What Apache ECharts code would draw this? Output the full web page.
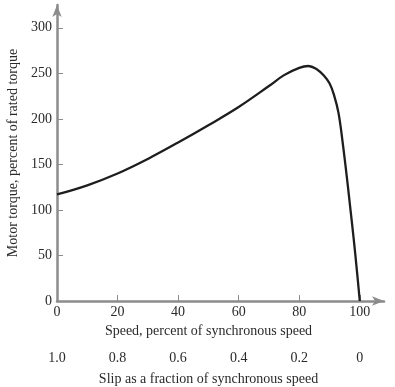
<!DOCTYPE html>
<html>
<head>
<meta charset="utf-8">
<script src="https://cdn.jsdelivr.net/npm/echarts@6/dist/echarts.min.js"></script>
<style>html,body{margin:0;padding:0;background:#fff}#c{width:395px;height:387px}</style>
</head>
<body>
<div id="c"></div>
<script>
var speed = [0, 10, 20, 30, 40, 50, 60, 70, 75, 80, 83, 86, 88, 90, 91.5, 93, 94.5, 96, 97, 98, 99, 100];
var torque = [117, 127, 140, 156, 174, 193, 213, 236, 248, 256, 258, 254, 248, 239, 226, 206, 170, 128, 98, 68, 35, 0];
var speedTicks = [0, 20, 40, 60, 80, 100];
var slipLabels = ['1.0', '0.8', '0.6', '0.4', '0.2', '0'];
var torqueTicks = [0, 50, 100, 150, 200, 250, 300];

var font = 'Liberation Serif';
var axisGray = '#8c8c8c';
var textColor = '#2a2a2a';
var data = speed.map(function (s, i) { return [s, torque[i]]; });

var chart = echarts.init(document.getElementById('c'));
chart.setOption({
  animation: false,
  grid: { left: 57, top: 5, width: 327, height: 296, containLabel: false, outerBoundsMode: 'none' },
  xAxis: [{
    type: 'value', min: 0, max: 108, position: 'bottom',
    name: 'Speed, percent of synchronous speed', nameLocation: 'middle', nameGap: 23,
    nameTextStyle: { fontFamily: font, fontSize: 14, color: textColor, padding: [0, 24, 0, 0] },
    axisLine: { show: true, onZero: false, lineStyle: { color: axisGray, width: 2.5 }, symbol: ['none', 'arrow'], symbolSize: [7, 12] },
    axisTick: { show: true, inside: true, length: 6, customValues: speedTicks, lineStyle: { color: axisGray, width: 1 } },
    axisLabel: { customValues: speedTicks, fontFamily: font, fontSize: 14, color: textColor, margin: 4 },
    splitLine: { show: false }
  }, {
    type: 'value', min: 0, max: 108, position: 'bottom', offset: 48,
    name: 'Slip as a fraction of synchronous speed', nameLocation: 'middle', nameGap: 23,
    nameTextStyle: { fontFamily: font, fontSize: 14, color: textColor, padding: [0, 24, 0, 0] },
    axisLine: { show: false },
    axisTick: { show: false },
    axisLabel: {
      customValues: speedTicks, fontFamily: font, fontSize: 14, color: textColor, margin: 2,
      formatter: function (v) { return slipLabels[speedTicks.indexOf(v)]; }
    },
    splitLine: { show: false }
  }],
  yAxis: {
    type: 'value', min: 0, max: 325,
    name: 'Motor torque, percent of rated torque', nameLocation: 'middle', nameGap: 34, nameRotate: 90,
    nameTextStyle: { fontFamily: font, fontSize: 14, color: textColor },
    axisLine: { show: true, lineStyle: { color: axisGray, width: 2.5 }, symbol: ['none', 'arrow'], symbolSize: [7, 12] },
    axisTick: { show: true, inside: true, length: 6, customValues: torqueTicks, lineStyle: { color: axisGray, width: 1 } },
    axisLabel: { customValues: torqueTicks, fontFamily: font, fontSize: 14, color: textColor, margin: 5 },
    splitLine: { show: false }
  },
  series: [{
    type: 'line', xAxisIndex: 0, data: data, smooth: 0.4,
    showSymbol: false, lineStyle: { color: '#1e1e1e', width: 2.3 }
  }]
});
</script>
</body>
</html>
